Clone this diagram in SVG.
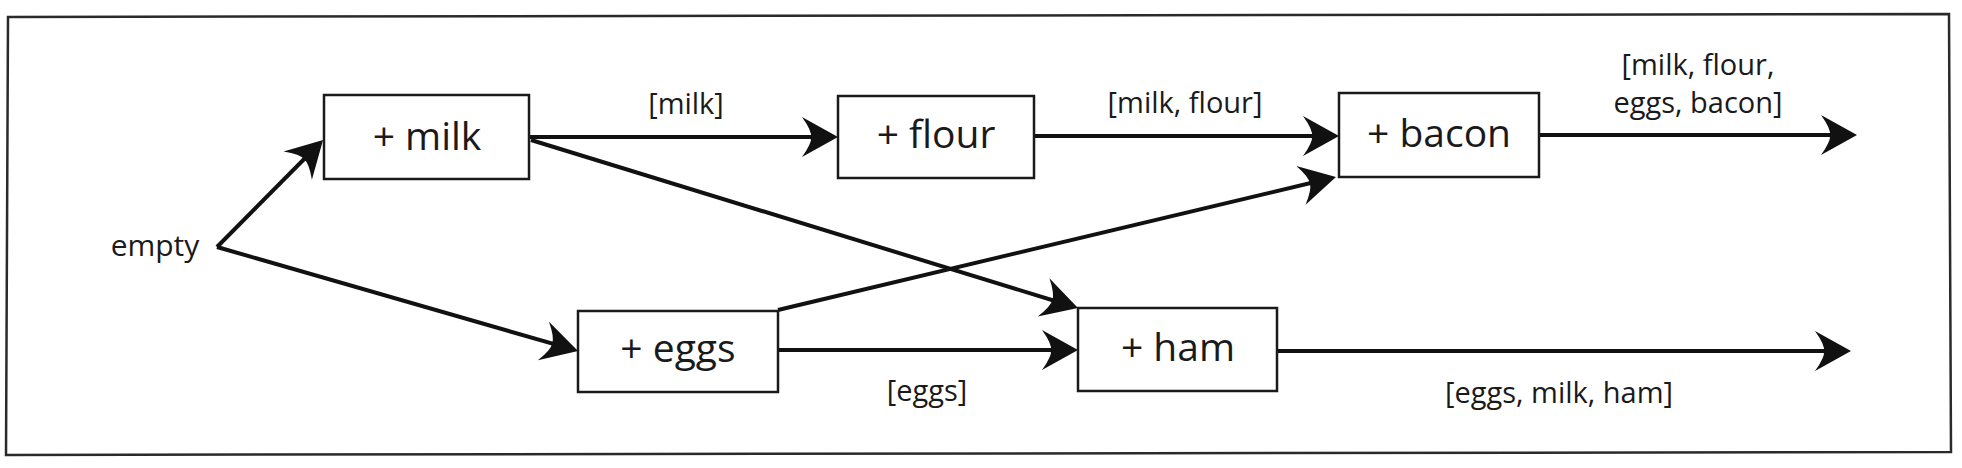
<svg xmlns="http://www.w3.org/2000/svg" width="1962" height="468" viewBox="0 0 1962 468">
  <style>
    .box { fill: #ffffff; stroke: #1a1a1a; stroke-width: 2.5; }
    .lbl { font-family: "Open Sans", "Noto Sans", sans-serif; fill: #1a1a1a; }
    .node { font-size: 39px; text-anchor: middle; }
    .edge { font-size: 29px; text-anchor: middle; }
    .conn { fill: none; stroke: #111111; stroke-width: 4; marker-end: url(#arrow); }
  </style>
  <defs>
    <marker id="arrow" markerUnits="userSpaceOnUse" markerWidth="40" markerHeight="44" viewBox="-2 -22 40 44" refX="24" refY="0" orient="auto">
      <path d="M36,0 L0,-20 Q10,-6 9,0 Q10,6 0,20 Z" fill="#111111"/>
    </marker>
  </defs>
  <rect width="1962" height="468" fill="#ffffff"/>
  <path d="M8,17 L1949,14 L1951,452 L6,455 Z" fill="none" stroke="#2a2a2a" stroke-width="2.5"/>

  <g id="connectors">
    <line class="conn" x1="217" y1="247" x2="314.6" y2="148.5"/>
    <line class="conn" x1="217" y1="247" x2="566.5" y2="347.7"/>
    <line class="conn" x1="529" y1="137" x2="826" y2="137"/>
    <line class="conn" x1="531" y1="140" x2="1066.5" y2="304.5"/>
    <line class="conn" x1="1034" y1="136" x2="1327" y2="136"/>
    <line class="conn" x1="778" y1="310" x2="1324.3" y2="179.8"/>
    <line class="conn" x1="778" y1="350" x2="1066" y2="350"/>
    <line class="conn" x1="1539" y1="135" x2="1845" y2="135"/>
    <line class="conn" x1="1277" y1="351" x2="1839" y2="351"/>
    <text class="lbl edge" x="686" y="114">[milk]</text>
    <text class="lbl edge" x="1185" y="113">[milk, flour]</text>
    <text class="lbl edge" x="1698" y="75">[milk, flour,</text>
    <text class="lbl edge" x="1698" y="113">eggs, bacon]</text>
    <text class="lbl edge" x="927" y="401">[eggs]</text>
    <text class="lbl edge" x="1559" y="403">[eggs, milk, ham]</text>
  </g>

  <g id="empty">
    <text class="lbl edge" x="155" y="256" style="font-size:30px">empty</text>
  </g>
  <g id="milk">
    <rect class="box" x="324" y="95" width="205" height="84"/>
    <text class="lbl node" x="427" y="150">+ milk</text>
  </g>
  <g id="flour">
    <rect class="box" x="838" y="96" width="196" height="82"/>
    <text class="lbl node" x="936" y="148">+ flour</text>
  </g>
  <g id="bacon">
    <rect class="box" x="1339" y="93" width="200" height="84"/>
    <text class="lbl node" x="1439" y="147">+ bacon</text>
  </g>
  <g id="eggs">
    <rect class="box" x="578" y="311" width="200" height="81"/>
    <text class="lbl node" x="678" y="362">+ eggs</text>
  </g>
  <g id="ham">
    <rect class="box" x="1078" y="308" width="199" height="83"/>
    <text class="lbl node" x="1178" y="361">+ ham</text>
  </g>
</svg>
